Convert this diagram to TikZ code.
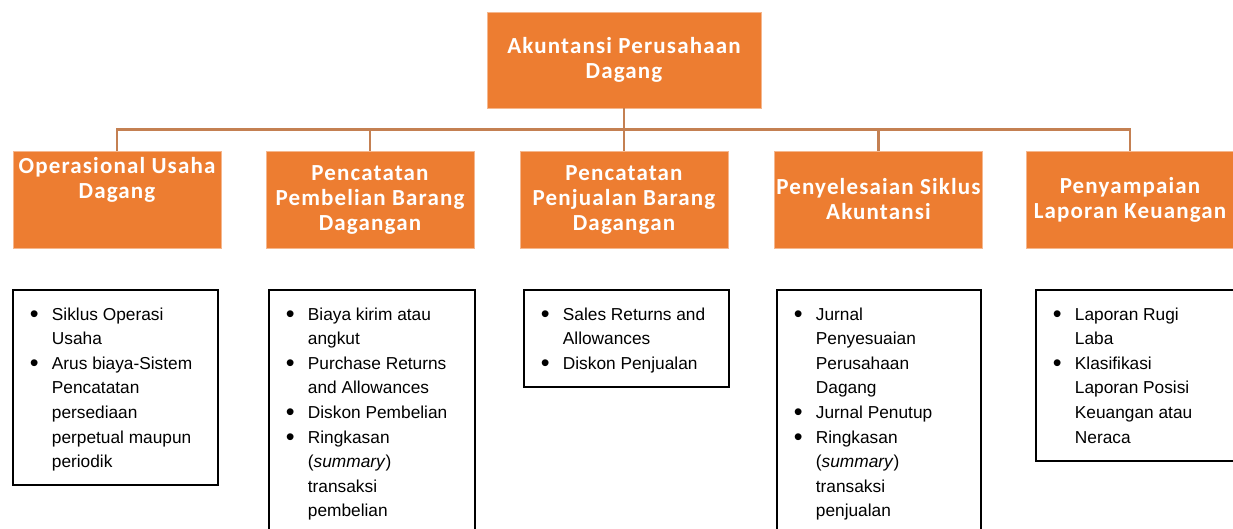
\documentclass[tikz,border=0pt]{standalone}
\usepackage{fontspec}
\setmainfont{Liberation Sans}
\newfontfamily\headfont[LetterSpace=5]{Carlito}
\definecolor{orangeF}{RGB}{237,125,49}
\definecolor{lineC}{RGB}{196,128,82}
\newcommand{\blist}[3]{\parbox[c][#2pt][t]{#1pt}{\fontsize{17.3}{24.6}\selectfont\raggedright\leftskip=17pt\vspace*{13pt}#3}}
\newcommand{\bit}{\par\hangindent=22pt\hangafter=1\noindent\strut\makebox[22pt][l]{\raisebox{-2.2pt}{\scalebox{1.45}{\textbullet}}}}
\tikzset{
 obox/.style={fill=orangeF, draw=orangeF!55!white, line width=0.8pt, minimum width=208pt, minimum height=97pt, inner sep=0pt, text=white, font=\headfont\bfseries\fontsize{23}{25}\selectfont, align=center},
 lbox/.style={draw=black, line width=1.8pt, inner sep=0pt, anchor=north west},
 conn/.style={draw=lineC, line width=2.5pt},
}
\begin{document}
\begin{tikzpicture}[x=1pt,y=-1pt]
\useasboundingbox (0,0) rectangle (1233,529);
\clip (0,0) rectangle (1233,529);
\node[obox, minimum width=274pt, minimum height=96pt] (top) at (624,60) {Akuntansi Perusahaan\\Dagang};
\node[obox] (b1) at (117,199.5) {\parbox[c][97pt][t]{208pt}{\centering\vspace*{5pt}\strut Operasional Usaha\\Dagang}};
\node[obox] (b2) at (370,199.5) {Pencatatan\\Pembelian Barang\\Dagangan};
\node[obox] (b3) at (624,199.5) {Pencatatan\\Penjualan Barang\\Dagangan};
\node[obox] (b4) at (878.5,199.5) {Penyelesaian Siklus\\Akuntansi};
\node[obox] (b5) at (1130,199.5) {Penyampaian\\Laporan Keuangan};
\draw[conn] (top.south) -- (b3.north);
\draw[conn] (b1.north) -- ++(0,-21) -| (b5.north);
\draw[conn] (b2.north) -- ++(0,-21);
\draw[conn] (b4.north) -- ++(0,-21);
\node[lbox] (l1) at (12,289) {\blist{205}{195}{\bit Siklus Operasi\newline Usaha\bit Arus biaya-Sistem\newline Pencatatan\newline persediaan\newline perpetual maupun\newline periodik}};
\node[lbox] (l2) at (268,289) {\blist{206}{260}{\bit Biaya kirim atau\newline angkut\bit Purchase Returns\newline and Allowances\bit Diskon Pembelian\bit Ringkasan\newline (\textit{summary})\newline transaksi\newline pembelian}};
\node[lbox] (l3) at (523,289) {\blist{205}{97}{\bit Sales Returns and\newline Allowances\bit Diskon Penjualan}};
\node[lbox] (l4) at (776,289) {\blist{204}{260}{\bit Jurnal\newline Penyesuaian\newline Perusahaan\newline Dagang\bit Jurnal Penutup\bit Ringkasan\newline (\textit{summary})\newline transaksi\newline penjualan}};
\node[lbox] (l5) at (1035,289) {\blist{210}{171}{\bit Laporan Rugi\newline Laba\bit Klasifikasi\newline Laporan Posisi\newline Keuangan atau\newline Neraca}};
\end{tikzpicture}
\end{document}
